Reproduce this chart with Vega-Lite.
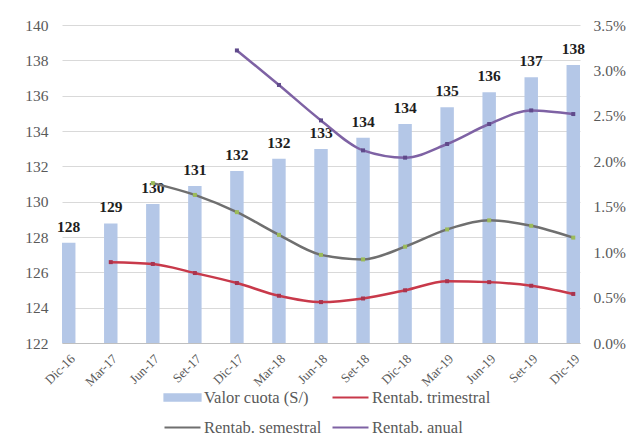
{
  "$schema": "https://vega.github.io/schema/vega-lite/v6.json",
  "width": 518,
  "height": 318,
  "autosize": {"type": "none"},
  "padding": {"left": 62, "top": 25, "right": 48, "bottom": 102},
  "background": "white",
  "config": {
    "view": {"stroke": null},
    "font": "'Liberation Serif', 'Times New Roman', 'DejaVu Serif', serif",
    "axis": {"labelFont": "'Liberation Serif', 'Times New Roman', 'DejaVu Serif', serif", "labelColor": "#595959", "title": null},
    "legend": {"labelFont": "'Liberation Serif', 'Times New Roman', 'DejaVu Serif', serif"},
    "text": {"font": "'Liberation Serif', 'Times New Roman', 'DejaVu Serif', serif"}
  },
  "datasets": {
    "cuota": [
      {"periodo": "Dic-16", "valor": 127.68},
      {"periodo": "Mar-17", "valor": 128.77},
      {"periodo": "Jun-17", "valor": 129.87},
      {"periodo": "Set-17", "valor": 130.88},
      {"periodo": "Dic-17", "valor": 131.73},
      {"periodo": "Mar-18", "valor": 132.43},
      {"periodo": "Jun-18", "valor": 132.98},
      {"periodo": "Set-18", "valor": 133.62},
      {"periodo": "Dic-18", "valor": 134.39},
      {"periodo": "Mar-19", "valor": 135.34},
      {"periodo": "Jun-19", "valor": 136.19},
      {"periodo": "Set-19", "valor": 137.04},
      {"periodo": "Dic-19", "valor": 137.73}
    ],
    "rentab": [
      {"periodo": "Mar-17", "serie": "Rentab. trimestral", "pct": 0.89},
      {"periodo": "Jun-17", "serie": "Rentab. trimestral", "pct": 0.87},
      {"periodo": "Set-17", "serie": "Rentab. trimestral", "pct": 0.77},
      {"periodo": "Dic-17", "serie": "Rentab. trimestral", "pct": 0.66},
      {"periodo": "Mar-18", "serie": "Rentab. trimestral", "pct": 0.52},
      {"periodo": "Jun-18", "serie": "Rentab. trimestral", "pct": 0.45},
      {"periodo": "Set-18", "serie": "Rentab. trimestral", "pct": 0.49},
      {"periodo": "Dic-18", "serie": "Rentab. trimestral", "pct": 0.58},
      {"periodo": "Mar-19", "serie": "Rentab. trimestral", "pct": 0.68},
      {"periodo": "Jun-19", "serie": "Rentab. trimestral", "pct": 0.67},
      {"periodo": "Set-19", "serie": "Rentab. trimestral", "pct": 0.63},
      {"periodo": "Dic-19", "serie": "Rentab. trimestral", "pct": 0.54},
      {"periodo": "Jun-17", "serie": "Rentab. semestral", "pct": 1.76},
      {"periodo": "Set-17", "serie": "Rentab. semestral", "pct": 1.63},
      {"periodo": "Dic-17", "serie": "Rentab. semestral", "pct": 1.44},
      {"periodo": "Mar-18", "serie": "Rentab. semestral", "pct": 1.19},
      {"periodo": "Jun-18", "serie": "Rentab. semestral", "pct": 0.97},
      {"periodo": "Set-18", "serie": "Rentab. semestral", "pct": 0.92},
      {"periodo": "Dic-18", "serie": "Rentab. semestral", "pct": 1.06},
      {"periodo": "Mar-19", "serie": "Rentab. semestral", "pct": 1.25},
      {"periodo": "Jun-19", "serie": "Rentab. semestral", "pct": 1.35},
      {"periodo": "Set-19", "serie": "Rentab. semestral", "pct": 1.29},
      {"periodo": "Dic-19", "serie": "Rentab. semestral", "pct": 1.16},
      {"periodo": "Dic-17", "serie": "Rentab. anual", "pct": 3.22},
      {"periodo": "Mar-18", "serie": "Rentab. anual", "pct": 2.84},
      {"periodo": "Jun-18", "serie": "Rentab. anual", "pct": 2.45},
      {"periodo": "Set-18", "serie": "Rentab. anual", "pct": 2.12},
      {"periodo": "Dic-18", "serie": "Rentab. anual", "pct": 2.04},
      {"periodo": "Mar-19", "serie": "Rentab. anual", "pct": 2.19},
      {"periodo": "Jun-19", "serie": "Rentab. anual", "pct": 2.41},
      {"periodo": "Set-19", "serie": "Rentab. anual", "pct": 2.56},
      {"periodo": "Dic-19", "serie": "Rentab. anual", "pct": 2.52}
    ]
  },
  "encoding": {
    "x": {
      "field": "periodo",
      "type": "ordinal",
      "sort": ["Dic-16", "Mar-17", "Jun-17", "Set-17", "Dic-17", "Mar-18", "Jun-18", "Set-18", "Dic-18", "Mar-19", "Jun-19", "Set-19", "Dic-19"],
      "scale": {
        "domain": ["Dic-16", "Mar-17", "Jun-17", "Set-17", "Dic-17", "Mar-18", "Jun-18", "Set-18", "Dic-18", "Mar-19", "Jun-19", "Set-19", "Dic-19"],
        "paddingInner": 0.68,
        "paddingOuter": 0
      },
      "axis": {
        "labelAngle": -45,
        "labelFontSize": 13,
        "ticks": false,
        "domainColor": "#bfbfbf",
        "domainWidth": 1,
        "labelPadding": 9,
        "grid": false
      }
    }
  },
  "layer": [
    {
      "data": {"name": "cuota"},
      "encoding": {
        "y": {
          "field": "valor",
          "type": "quantitative",
          "scale": {"domain": [122, 140], "zero": false, "nice": false},
          "axis": {
            "values": [122, 124, 126, 128, 130, 132, 134, 136, 138, 140],
            "labelFontSize": 15.5,
            "ticks": false,
            "domain": false,
            "labelPadding": 14,
            "grid": true,
            "gridColor": "#d9d9d9",
            "gridWidth": 1
          }
        }
      },
      "layer": [
        {
          "mark": {"type": "bar", "color": "#b4c7e7"},
          "encoding": {
            "y2": {"datum": 122},
            "color": {"datum": "Valor cuota (S/)"}
          }
        },
        {
          "mark": {
            "type": "text",
            "fontWeight": "bold",
            "fontSize": 15.5,
            "baseline": "alphabetic",
            "dy": -11,
            "color": "#1e1e1e"
          },
          "encoding": {
            "text": {"field": "valor", "type": "quantitative", "format": ".0f"}
          }
        }
      ]
    },
    {
      "data": {"name": "rentab"},
      "encoding": {
        "y": {
          "field": "pct",
          "type": "quantitative",
          "scale": {"domain": [0, 3.5], "zero": true, "nice": false},
          "axis": {
            "orient": "right",
            "values": [0, 0.5, 1, 1.5, 2, 2.5, 3, 3.5],
            "labelExpr": "format(datum.value, '.1f') + '%'",
            "labelFontSize": 15.5,
            "ticks": false,
            "domain": false,
            "grid": false,
            "labelPadding": 13
          }
        }
      },
      "layer": [
        {
          "mark": {"type": "line", "strokeWidth": 2.5, "interpolate": "monotone"},
          "encoding": {
            "color": {
              "field": "serie",
              "type": "nominal",
              "scale": {
                "domain": ["Valor cuota (S/)", "Rentab. trimestral", "Rentab. semestral", "Rentab. anual"],
                "range": ["#b4c7e7", "#c8394a", "#6f6f6f", "#7e62a4"]
              },
              "legend": {
                "title": null,
                "orient": "none",
                "legendX": 101,
                "legendY": 362,
                "direction": "horizontal",
                "columns": 2,
                "symbolSize": 324,
                "symbolOffset": 9,
                "labelOffset": 11,
                "labelFontSize": 16.5,
                "labelColor": "#595959",
                "labelLimit": 220,
                "rowPadding": 11,
                "columnPadding": 6,
                "encode": {
                  "symbols": {
                    "update": {
                      "shape": {"signal": "datum.value === 'Valor cuota (S/)' ? 'M-2,-0.35H2V0.35H-2Z' : 'M-2,0H2'"},
                      "fill": {"signal": "datum.value === 'Valor cuota (S/)' ? '#b4c7e7' : 'transparent'"},
                      "stroke": {"signal": "datum.value === 'Valor cuota (S/)' ? 'transparent' : scale('color', datum.value)"},
                      "strokeWidth": {"value": 2.2},
                      "opacity": {"value": 1}
                    }
                  }
                }
              }
            }
          }
        },
        {
          "mark": {"type": "point", "shape": "square", "filled": true, "size": 16, "opacity": 1},
          "encoding": {
            "fill": {
              "field": "serie",
              "type": "nominal",
              "scale": {
                "domain": ["Rentab. trimestral", "Rentab. semestral", "Rentab. anual"],
                "range": ["#a8344f", "#9bbb59", "#5f4a8b"]
              },
              "legend": null
            }
          }
        }
      ]
    }
  ],
  "resolve": {"scale": {"y": "independent"}}
}
